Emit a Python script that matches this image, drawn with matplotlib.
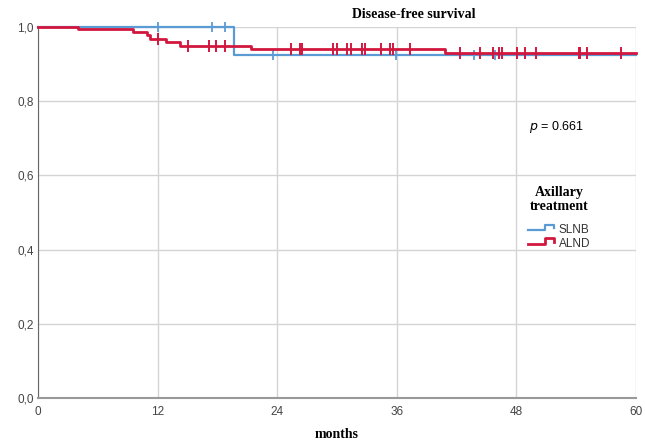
import numpy as np
import matplotlib
matplotlib.use("Agg")
import matplotlib.pyplot as plt
from matplotlib.ticker import FuncFormatter
from matplotlib.lines import Line2D
from matplotlib.legend_handler import HandlerBase

# Kaplan-Meier steps
slnb_t = [0, 19.7, 60]
slnb_s = [1.0, 0.925, 0.925]
slnb_cens = [12.0, 17.5, 18.8, 23.6, 35.9, 43.7, 45.9]

alnd_t = [0, 4.0, 9.5, 10.9, 11.2, 12.8, 14.2, 21.4, 40.8, 60]
alnd_s = [1.0, 0.994, 0.986, 0.978, 0.967, 0.959, 0.950, 0.940, 0.929, 0.929]
alnd_cens = [12.0, 15.0, 17.2, 17.9, 18.8, 25.4, 26.3, 26.5, 29.6, 30.0, 31.0, 31.4,
             32.5, 32.8, 34.4, 35.3, 35.6, 37.3, 42.3, 44.3, 45.7, 46.3, 46.6, 48.1,
             48.9, 50.0, 54.3, 54.4, 55.1, 58.5]

x_ticks = [0, 12, 24, 36, 48, 60]
y_ticks = [0.0, 0.2, 0.4, 0.6, 0.8, 1.0]

blue = "#5b9bd5"
red = "#d2173f"
serif = "Liberation Serif"
sans = "Liberation Sans"


def surv_at(t, times, surv):
    i = np.searchsorted(times, t, side="right") - 1
    return np.array(surv)[i]


class StepHandler(HandlerBase):
    # little step icon like the SPSS legend
    def create_artists(self, legend, orig, xd, yd, width, height, fontsize, trans):
        lo, hi = yd + height * 0.2, yd + height * 0.8
        xs = [xd, xd + width * 0.6, xd + width * 0.6, xd + width * 0.92, xd + width * 0.92]
        ys = [lo, lo, hi, hi, lo + (hi - lo) * 0.4]
        ln = Line2D(xs, ys, color=orig.get_color(), lw=orig.get_linewidth(), transform=trans)
        return [ln]


fig = plt.figure(figsize=(6.45, 4.42), dpi=100)
ax = fig.add_axes([38 / 645, 1 - 398 / 442, 598 / 645, 371 / 442])

ax.step(slnb_t, slnb_s, where="post", color=blue, lw=1.6, clip_on=False, zorder=3)
ax.step(alnd_t, alnd_s, where="post", color=red, lw=2.0, clip_on=False, zorder=4)
ax.plot(slnb_cens, surv_at(slnb_cens, slnb_t, slnb_s), ls="none", marker="|",
        ms=7, mew=1.3, color=blue, clip_on=False, zorder=3)
ax.plot(alnd_cens, surv_at(alnd_cens, alnd_t, alnd_s), ls="none", marker="|",
        ms=8, mew=1.4, color=red, clip_on=False, zorder=4)

ax.set_xlim(0, 60)
ax.set_ylim(0, 1)
ax.set_xticks(x_ticks)
ax.set_yticks(y_ticks)
ax.yaxis.set_major_formatter(FuncFormatter(lambda v, p: f"{v:.1f}".replace(".", ",")))
ax.tick_params(length=0, labelsize=8.5, labelcolor="#444444", pad=3)
ax.tick_params(axis="x", pad=6)
for lab in ax.get_xticklabels() + ax.get_yticklabels():
    lab.set_fontfamily(sans)
ax.grid(True, color="#d4d4d4", lw=1)
ax.set_axisbelow(True)
for s in ["top", "right"]:
    ax.spines[s].set_visible(False)
ax.spines["left"].set_color("#666666")
ax.spines["bottom"].set_color("#999999")
ax.spines["bottom"].set_linewidth(1.5)

fig.text(414 / 645, 1 - 14 / 442, "Disease-free survival", ha="center", va="center",
         fontsize=10, fontweight="bold", family=serif)
fig.text(337 / 645, 1 - 434 / 442, "months", ha="center", va="center",
         fontsize=10, fontweight="bold", family=serif)
fig.text(529 / 645, 1 - 127 / 442, "$p$ = 0.661", ha="left", va="center",
         fontsize=9, family=sans)

handles = [Line2D([0], [0], color=blue, lw=1.6), Line2D([0], [0], color=red, lw=2.0)]
leg = ax.legend(handles, ["SLNB", "ALND"], title="Axillary\ntreatment",
                loc="center", bbox_to_anchor=(559 / 645, 1 - 218 / 442),
                bbox_transform=fig.transFigure, frameon=False, fontsize=8.5,
                handlelength=2.4, handleheight=0.9, handletextpad=0.2, labelspacing=0.15,
                handler_map={Line2D: StepHandler()})
leg.get_title().set_fontfamily(serif)
leg.get_title().set_fontweight("bold")
leg.get_title().set_fontsize(10)
leg.get_title().set_multialignment("center")
leg.get_title().set_linespacing(1.1)
leg._legend_box.sep = 8
for t in leg.get_texts():
    t.set_fontfamily(sans)
    t.set_color("#333333")

fig.savefig("out.png", dpi=100)
